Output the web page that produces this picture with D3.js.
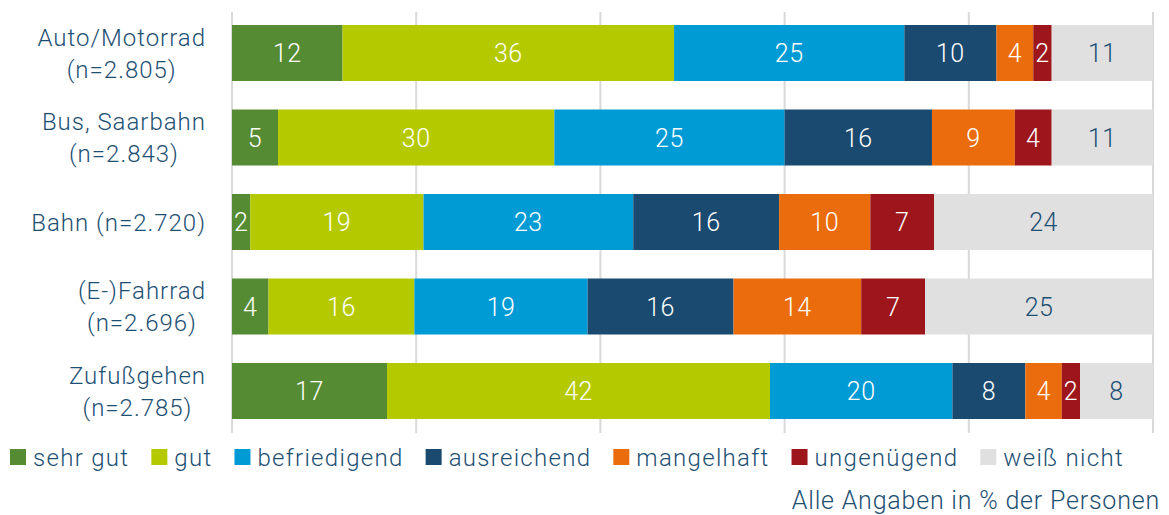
<!DOCTYPE html>
<html>
<head>
<meta charset="utf-8">
<script src="https://cdn.jsdelivr.net/npm/d3@7"></script>
<style>
  body { margin: 0; background: #fff; }
  text { font-family: Roboto, sans-serif; font-weight: 300; }
</style>
</head>
<body>
<div id="chart"></div>
<script>
// categories (two-line labels)
const categories = [
  ["Auto/Motorrad", "(n=2.805)"],
  ["Bus, Saarbahn", "(n=2.843)"],
  ["Bahn (n=2.720)"],
  ["(E-)Fahrrad", "(n=2.696)"],
  ["Zufußgehen", "(n=2.785)"]
];
const seriesNames = ["sehr gut", "gut", "befriedigend", "ausreichend", "mangelhaft", "ungenügend", "weiß nicht"];
const seriesColors = ["#558b33", "#b5c900", "#009ad4", "#1a4a70", "#eb6c0d", "#9c161c", "#e0e0e0"];

// values per category, in series order (percent)
const sehrGut      = [12, 5, 2, 4, 17];
const gut          = [36, 30, 19, 16, 42];
const befriedigend = [25, 25, 23, 19, 20];
const ausreichend  = [10, 16, 16, 16, 8];
const mangelhaft   = [4, 9, 10, 14, 4];
const ungenuegend  = [2, 4, 7, 7, 2];
const weissNicht   = [11, 11, 24, 25, 8];

const xTicks = [0, 20, 40, 60, 80, 100];

const width = 1169, height = 515;
const margin = { left: 232, right: 16 };
const textColor = "#1d4f73";

const series = [sehrGut, gut, befriedigend, ausreichend, mangelhaft, ungenuegend, weissNicht];
const rows = categories.map((c, i) => {
  const r = { key: i };
  seriesNames.forEach((s, j) => r[s] = series[j][i]);
  return r;
});

const stack = d3.stack().keys(seriesNames).offset(d3.stackOffsetExpand);
const stacked = stack(rows);

const svg = d3.select("#chart").append("svg")
  .attr("width", width).attr("height", height);

const x = d3.scaleLinear().domain([0, 1]).range([margin.left, width - margin.right]);
const y = d3.scaleBand().domain(d3.range(categories.length))
  .range([25, 419]).paddingInner(28.5 / 84.5).paddingOuter(0);

// grid lines
svg.append("g").selectAll("line").data(xTicks).join("line")
  .attr("x1", d => x(d / 100)).attr("x2", d => x(d / 100))
  .attr("y1", 12).attr("y2", 433)
  .attr("stroke", "#d9d9d9").attr("stroke-width", 2);

// bars
const layer = svg.append("g").selectAll("g").data(stacked).join("g")
  .attr("fill", (d, i) => seriesColors[i]);

layer.selectAll("rect").data(d => d).join("rect")
  .attr("x", d => x(d[0]))
  .attr("y", (d, i) => y(i))
  .attr("width", d => x(d[1]) - x(d[0]))
  .attr("height", y.bandwidth());

// value labels
stacked.forEach((s, si) => {
  svg.append("g").selectAll("text").data(s).join("text")
    .attr("x", d => (x(d[0]) + x(d[1])) / 2)
    .attr("y", (d, i) => y(i) + y.bandwidth() / 2)
    .attr("dy", "0.36em")
    .attr("text-anchor", "middle")
    .attr("font-size", 25)
    .attr("letter-spacing", 0.5)
    .attr("fill", si === 6 ? textColor : "#fff")
    .text(d => d.data[s.key]);
});

// category labels: block right-aligned, lines centred in the block
const labelRight = 206;
categories.forEach((lines, i) => {
  const g = svg.append("g");
  const texts = g.selectAll("text").data(lines).join("text")
    .attr("y", (d, k) => y(i) + y.bandwidth() / 2 + (k - (lines.length - 1) / 2) * 32)
    .attr("dy", "0.36em")
    .attr("text-anchor", "middle")
    .attr("font-size", 24)
    .attr("letter-spacing", 1)
    .attr("fill", textColor)
    .text(d => d);
  const maxW = d3.max(texts.nodes(), n => n.getComputedTextLength());
  texts.attr("x", labelRight - maxW / 2);
});

// legend
const legend = svg.append("g").attr("transform", "translate(10,457)");
let lx = 0;
seriesNames.forEach((name, i) => {
  const g = legend.append("g").attr("transform", `translate(${lx},0)`);
  g.append("rect").attr("x", 0).attr("y", -8).attr("width", 16).attr("height", 16)
    .attr("fill", seriesColors[i]);
  const t = g.append("text").attr("x", 23).attr("dy", "0.36em")
    .attr("font-size", 24).attr("letter-spacing", 1.3)
    .attr("fill", textColor).text(name);
  lx += 23 + t.node().getComputedTextLength() + 22;
});

// note
svg.append("text")
  .attr("x", 1160).attr("y", 500).attr("dy", "0.36em")
  .attr("text-anchor", "end")
  .attr("font-size", 25)
  .attr("letter-spacing", 0.8)
  .attr("fill", textColor)
  .text("Alle Angaben in % der Personen");
</script>
</body>
</html>
